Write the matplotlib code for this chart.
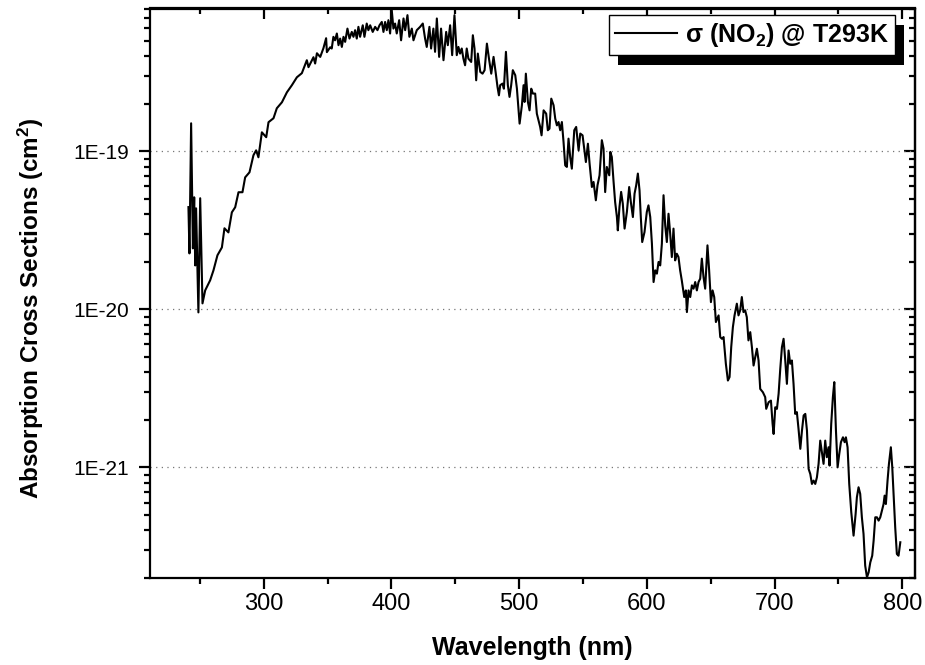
import numpy as np
import matplotlib
matplotlib.use("Agg")
import matplotlib.pyplot as plt
from matplotlib.ticker import FixedLocator, FixedFormatter, LogLocator, NullFormatter, MultipleLocator
from matplotlib.patches import Rectangle
from matplotlib.transforms import IdentityTransform

# ---- data ----
wavelength_nm = [
    241.1, 241.9, 243.2, 244.6, 245.6, 246.4, 247.1, 248.9, 250.3, 252.1,
    254.2, 258.1, 260.7, 263.8, 267.3, 269.3, 272.4, 275.1, 277.7, 280.3,
    283.4, 285.5, 288.9, 292.0, 294.1, 295.9, 298.6, 302.0, 303.8, 307.7,
    310.3, 314.3, 318.2, 322.1, 326.0, 329.9, 333.8, 335.1, 339.0, 340.3,
    341.7, 344.3, 346.8, 348.9, 349.5, 352.1,
    353.3, 354.6, 355.9, 357.3, 358.6, 359.9, 361.2, 362.5, 363.8, 365.6,
    367.2, 369.0, 370.3, 371.6, 372.9, 374.2, 375.5, 377.6, 378.9, 380.7,
    382.0, 383.4, 385.4, 387.3, 389.1, 390.7, 392.5, 393.8, 395.1, 396.4,
    397.7, 399.0, 400.3, 401.6, 402.9, 404.2, 406.1, 407.6, 409.5, 410.8,
    412.6, 414.1, 416.0, 417.3, 419.9, 422.5, 424.6, 426.4, 427.7, 429.8,
    431.1, 432.9, 434.2, 435.6, 437.4, 438.9, 440.8, 442.9, 444.2, 446.0,
    447.6, 449.4, 451.2, 452.5, 453.8, 455.1, 456.4, 457.7, 459.0, 460.3,
    462.5, 463.8, 465.1, 466.4, 467.7, 469.6, 471.4, 473.0, 474.8, 476.6,
    478.2, 480.0, 481.6, 483.1, 484.2, 485.2, 487.0, 488.1, 489.7, 491.2,
    492.5, 493.8, 495.1, 497.0, 498.3, 500.4, 502.2, 503.5, 504.3, 505.3,
    506.9, 508.2, 509.5, 510.8, 512.6, 513.9, 516.5, 517.6, 519.2, 521.2,
    522.5, 523.8, 525.2, 527.0, 528.3, 529.6, 530.9, 532.2, 533.5, 534.8,
    536.1, 537.4, 538.7, 540.0, 541.3, 543.2, 544.7, 546.6, 547.9, 549.7,
    551.3, 552.3, 553.9, 555.2, 557.0, 558.3, 560.1, 561.4, 563.0, 564.8,
    566.1, 567.4, 568.7, 570.6, 571.4,
    572.6, 573.9, 575.2, 576.6, 577.3, 578.6, 579.9, 581.2, 582.6, 584.4,
    586.2, 587.5, 589.1, 590.4, 591.7, 593.0, 594.3, 595.3, 596.4, 598.2,
    600.0, 601.3, 602.7, 604.0, 605.3, 606.6, 607.9, 609.2, 610.5, 611.8,
    613.1, 614.4, 615.7, 617.0, 618.3, 619.6, 620.9, 622.2, 623.5, 624.8,
    626.1, 627.4, 629.3, 630.6, 631.4, 632.7, 634.0, 635.3, 636.6, 637.9,
    639.2, 640.5, 641.8, 643.1, 644.4, 645.7, 647.5, 648.8, 650.2, 651.5,
    652.8, 654.1, 656.2, 657.5, 658.8, 660.1, 661.9, 663.5, 664.8, 666.1,
    667.4, 668.7, 670.5, 671.8, 673.1, 674.4, 675.7, 677.0, 678.3, 679.6,
    681.0, 682.3, 683.6, 684.9, 686.2, 687.5, 688.8, 690.9, 692.7, 693.5,
    695.4, 697.2, 698.5, 699.3, 700.6, 701.9, 703.2, 704.5, 705.8, 707.1,
    708.4, 709.7, 711.0, 712.3, 713.6, 714.9, 716.2, 717.5, 718.8, 720.2,
    721.5, 722.8, 724.1, 725.4, 726.7, 728.0, 729.3, 730.6, 731.9, 733.2,
    734.5, 735.8, 737.1, 738.4, 739.7, 741.0, 742.3, 743.1, 744.4, 745.7,
    746.8, 748.1, 749.4, 750.7, 752.0, 753.6, 754.9, 755.9, 757.2, 758.5,
    760.1, 761.9, 763.5, 764.5, 765.8, 767.1, 768.4, 769.7, 771.0, 772.4,
    773.7, 775.0, 776.5, 777.6, 778.9, 780.2, 781.5, 782.8, 784.1, 785.4,
    786.2, 787.2, 788.5, 789.6, 791.1, 792.2, 793.2, 794.5, 795.8, 797.1,
    798.5,
]

# log10 of the absorption cross-section in cm^2, read on the log axis
log10_sigma = [
    -19.353, -19.646, -18.823, -19.614, -19.291, -19.722, -19.361, -20.019, -19.297, -19.962,
    -19.880, -19.816, -19.753, -19.658, -19.608, -19.487, -19.513, -19.386, -19.354, -19.259,
    -19.259, -19.165, -19.133, -19.025, -18.994, -19.038, -18.880, -18.911, -18.816, -18.791,
    -18.728, -18.690, -18.627, -18.582, -18.532, -18.506, -18.424, -18.468, -18.405, -18.445,
    -18.380, -18.403, -18.348, -18.285, -18.373, -18.342,
    -18.350, -18.276, -18.298, -18.255, -18.329, -18.287, -18.340, -18.276, -18.308, -18.224,
    -18.287, -18.245, -18.276, -18.234, -18.287, -18.213, -18.276, -18.203, -18.276, -18.192,
    -18.234, -18.203, -18.245, -18.213, -18.234, -18.203, -18.182, -18.245, -18.182, -18.234,
    -18.171, -18.255, -18.108, -18.224, -18.192, -18.255, -18.171, -18.298, -18.160, -18.234,
    -18.139, -18.276, -18.224, -18.298, -18.234, -18.213, -18.192, -18.287, -18.340, -18.213,
    -18.350, -18.224, -18.371, -18.160, -18.403, -18.224, -18.424, -18.245, -18.329, -18.203,
    -18.392, -18.139, -18.392, -18.340, -18.382, -18.350, -18.414, -18.456, -18.350, -18.414,
    -18.435, -18.266, -18.350, -18.551, -18.382, -18.498, -18.509, -18.487, -18.319, -18.424,
    -18.509, -18.403, -18.498, -18.593, -18.646, -18.582, -18.572, -18.604, -18.371, -18.582,
    -18.656, -18.582, -18.487, -18.519, -18.604, -18.825, -18.709, -18.582, -18.688, -18.509,
    -18.688, -18.741, -18.604, -18.635, -18.635, -18.762, -18.846, -18.899, -18.741, -18.762,
    -18.867, -18.857, -18.667, -18.709, -18.793, -18.836, -18.815, -18.867, -18.815, -18.941,
    -19.089, -19.099, -18.920, -19.036, -19.110, -18.867, -18.846, -18.994, -18.888, -18.899,
    -19.004, -19.068, -18.952, -19.078, -19.226, -19.194, -19.310, -19.215, -19.152, -18.930,
    -18.983, -19.258, -19.099, -19.152, -19.004,
    -19.036, -19.184, -19.321, -19.416, -19.500, -19.352, -19.257, -19.331, -19.489, -19.384,
    -19.226, -19.321, -19.416, -19.268, -19.215, -19.141, -19.247, -19.416, -19.574, -19.511,
    -19.384, -19.342, -19.416, -19.584, -19.827, -19.753, -19.774, -19.700, -19.722, -19.584,
    -19.278, -19.468, -19.574, -19.395, -19.521, -19.669, -19.489, -19.690, -19.648, -19.669,
    -19.753, -19.817, -19.922, -19.880, -20.017, -19.880, -19.922, -19.848, -19.869, -19.827,
    -19.880, -19.827, -19.806, -19.679, -19.795, -19.869, -19.595, -19.753, -19.954, -19.880,
    -19.922, -20.080, -20.038, -20.175, -20.186, -20.175, -20.344, -20.450, -20.428, -20.238,
    -20.112, -20.038, -19.964, -20.038, -20.006, -19.922, -20.017, -20.006, -20.049, -20.196,
    -20.144, -20.239, -20.355, -20.302, -20.249, -20.323, -20.503, -20.524, -20.555, -20.629,
    -20.587, -20.577, -20.724, -20.788, -20.619, -20.629, -20.534, -20.376, -20.239, -20.186,
    -20.323, -20.471, -20.260, -20.344, -20.323, -20.471, -20.661, -20.650, -20.756, -20.882,
    -20.766, -20.671, -20.661, -20.766, -21.009, -21.041, -21.104, -21.083, -21.104, -21.062,
    -20.977, -20.830, -20.904, -20.977, -20.830, -20.935, -20.872, -20.988, -20.724, -20.555,
    -20.460, -20.766, -20.999, -20.914, -20.840, -20.809, -20.840, -20.809, -20.872, -21.104,
    -21.283, -21.431, -21.294, -21.188, -21.125, -21.167, -21.315, -21.420, -21.621, -21.695,
    -21.663, -21.600, -21.558, -21.463, -21.315, -21.315, -21.336, -21.315, -21.273, -21.231,
    -21.178, -21.231, -21.083, -20.977, -20.872, -20.999, -21.167, -21.378, -21.547, -21.558,
    -21.473,
]

x_ticks = [300, 400, 500, 600, 700, 800]
x_tick_labels = ["300", "400", "500", "600", "700", "800"]
y_ticks = [1e-21, 1e-20, 1e-19]
y_tick_labels = ["1E-21", "1E-20", "1E-19"]
series_label = "\u03c3 (NO$_2$) @ T293K"
x_title = "Wavelength (nm)"
y_title = "Absorption Cross Sections (cm$^2$)"

# ---- style ----
plt.rcParams["font.family"] = ["Liberation Sans", "DejaVu Sans"]
plt.rcParams["mathtext.default"] = "regular"

sigma = 10.0 ** np.asarray(log10_sigma)

fig = plt.figure(figsize=(9.25, 6.65), dpi=100)
ax = fig.add_axes([150 / 925, 87 / 665, 765 / 925, 569.5 / 665])

ax.plot(wavelength_nm, sigma, color="black", lw=1.5, zorder=3)

ax.set_yscale("log")
ax.set_xlim(211, 810)
ax.set_ylim(2e-22, 8e-19)

for s in ax.spines.values():
    s.set_linewidth(1.6)

ax.xaxis.set_major_locator(FixedLocator(x_ticks))
ax.xaxis.set_major_formatter(FixedFormatter(x_tick_labels))
ax.xaxis.set_minor_locator(MultipleLocator(50))
ax.yaxis.set_major_locator(FixedLocator(y_ticks))
ax.yaxis.set_major_formatter(FixedFormatter(y_tick_labels))
ax.yaxis.set_minor_locator(LogLocator(base=10, subs=np.arange(2, 10)))
ax.yaxis.set_minor_formatter(NullFormatter())

ax.tick_params(which="major", direction="out", length=8, width=1.6, top=False, right=False)
ax.tick_params(which="minor", direction="out", length=4.5, width=1.6, top=False, right=False)
ax.tick_params(axis="y", which="major", labelsize=15, pad=7)
ax.tick_params(axis="x", which="major", labelsize=17, pad=3)

secx = ax.secondary_xaxis("top")
secx.xaxis.set_major_locator(FixedLocator(x_ticks))
secx.xaxis.set_minor_locator(MultipleLocator(50))
secx.tick_params(which="major", direction="in", length=8, width=1.6, labeltop=False)
secx.tick_params(which="minor", direction="in", length=4.5, width=1.6, labeltop=False)
secx.spines["top"].set_linewidth(1.6)

secy = ax.secondary_yaxis("right")
secy.yaxis.set_major_locator(FixedLocator(y_ticks))
secy.yaxis.set_minor_locator(LogLocator(base=10, subs=np.arange(2, 10)))
secy.yaxis.set_minor_formatter(NullFormatter())
secy.tick_params(which="major", direction="in", length=8, width=1.6, labelright=False)
secy.tick_params(which="minor", direction="in", length=4.5, width=1.6, labelright=False)
secy.spines["right"].set_linewidth(1.6)

ax.yaxis.grid(True, which="major", linestyle=(0, (1, 3.5)), color="#777777", lw=0.9)
ax.xaxis.grid(False)

ax.set_xlabel(x_title, fontsize=18, fontweight="bold", labelpad=15)
ax.set_ylabel(y_title, fontsize=17.5, fontweight="bold")
ax.yaxis.set_label_coords(-0.136, 0.474)

leg = ax.legend([ax.lines[0]], [series_label], loc="upper right",
                bbox_to_anchor=(0.974, 0.9886), borderaxespad=0,
                prop={"size": 18, "weight": "bold"}, fancybox=False,
                framealpha=1, edgecolor="black", handlelength=2.5,
                handletextpad=0.3, borderpad=0.25)
leg.get_frame().set_linewidth(1.0)
leg.set_zorder(10)

fig.canvas.draw()
bb = leg.get_window_extent()
shadow = Rectangle((bb.x0 + 9, bb.y0 - 10), bb.width, bb.height,
                   transform=IdentityTransform(), facecolor="black",
                   edgecolor="none", zorder=9)
ax.add_artist(shadow)

fig.savefig("out.png", dpi=100)
